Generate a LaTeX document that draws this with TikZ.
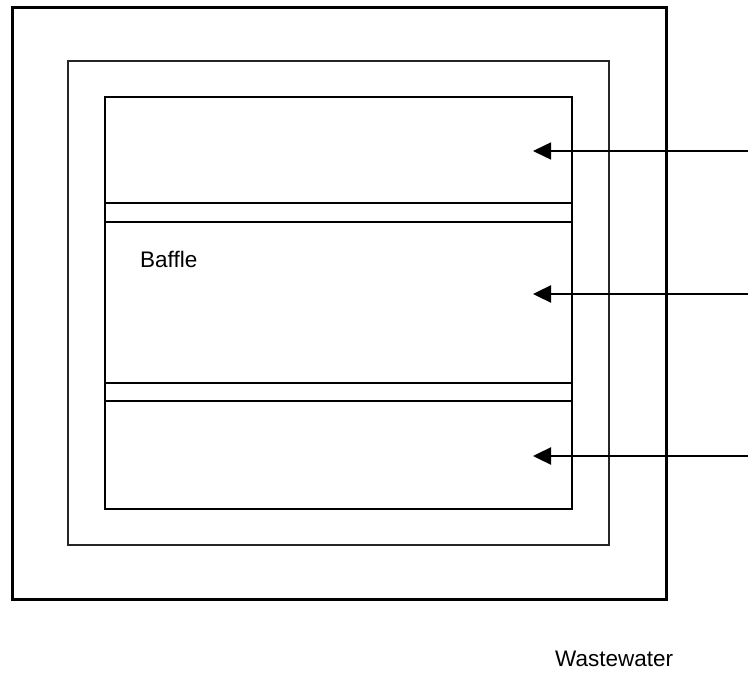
\documentclass[tikz,border=0pt]{standalone}
\usepackage{fontspec}
\setmainfont{Liberation Sans}
\usetikzlibrary{arrows.meta}

\tikzset{
  wall/.style={draw=black, line width=3pt},
  liner/.style={draw=black!85, line width=1.7pt},
  baffleline/.style={draw=black, line width=2.5pt},
  inflow/.style={-{Triangle[length=18pt, width=17pt]}, line width=2.4pt},
  label/.style={anchor=base west, inner sep=0pt, font=\fontsize{22.5}{27}\selectfont}
}

\begin{document}
\begin{tikzpicture}[x=1pt, y=-1pt]
	\useasboundingbox (0,0) rectangle (748,674);
	% tank walls
	\draw[wall] (12,8) rectangle (666,599);
	\draw[liner] (68,61) rectangle (609,545);
	\draw[wall, line width=2.8pt] (105,97) rectangle (572,509);
	% baffles
	\draw[baffleline] (105,203) -- (572,203);
	\draw[baffleline] (105,222) -- (572,222);
	\draw[baffleline] (105,383) -- (572,383);
	\draw[baffleline] (105,401) -- (572,401);
	\node[label] (baffle) at (140,268) {Baffle};
	% inlets
	\coordinate (in1) at (748,151);
	\coordinate (in2) at (748,294);
	\coordinate (in3) at (748,456);
	\coordinate (out1) at (533,151);
	\coordinate (out2) at (533,294);
	\coordinate (out3) at (533,456);
	\draw[inflow, line width=1.5pt] (in1) -- (out1);
	\draw[inflow] (in2) -- (out2);
	\draw[inflow] (in3) -- (out3);
	\node[label] (waste) at (555,666) {Wastewater};
\end{tikzpicture}
\end{document}
